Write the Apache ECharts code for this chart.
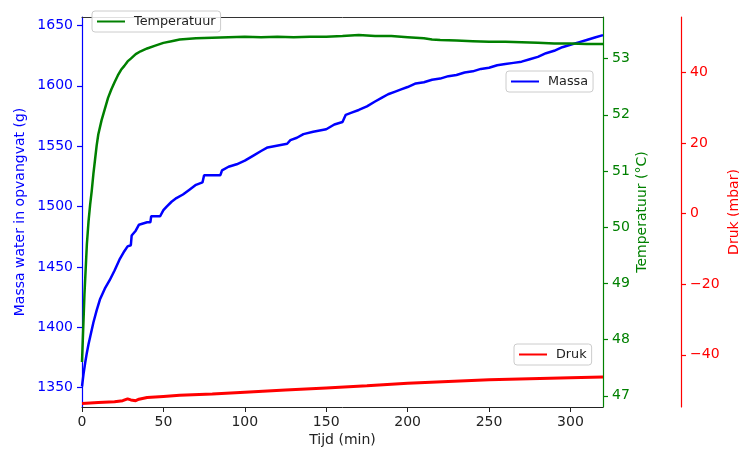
<!DOCTYPE html>
<html>
<head>
<meta charset="utf-8">
<script src="https://cdn.jsdelivr.net/npm/echarts@6/dist/echarts.min.js"></script>
<style>
  html, body { margin: 0; padding: 0; background: #fff; }
  #chart { width: 739px; height: 455px; }
</style>
</head>
<body>
<div id="chart"></div>
<script>
// Massa (g) versus tijd (min)
var massaTijd = [0, 1, 2, 3, 4, 5, 7, 9, 11, 14, 17, 20, 23, 26, 28, 30, 30.5, 33, 35, 40, 42, 42.5, 48, 50, 52, 55, 58, 62, 66, 70, 74, 75, 85, 86, 90, 95, 100, 105, 110, 114, 118, 122, 126, 128, 132, 136, 142, 150, 155, 160, 162, 166, 170, 175, 180, 184, 188, 192, 196, 200, 205, 210, 215, 220, 225, 230, 235, 240, 245, 250, 255, 260, 265, 270, 275, 280, 285, 290, 295, 300, 305, 310, 315, 320];
var massaWaarden = [1351, 1362, 1371, 1379, 1386, 1392, 1404, 1414, 1423, 1432, 1439, 1447, 1456, 1463, 1467, 1468, 1476, 1480, 1485, 1487, 1487, 1492, 1492, 1497, 1500, 1504, 1507, 1510, 1514, 1518, 1520, 1526, 1526, 1530, 1533, 1535, 1538, 1542, 1546, 1549, 1550, 1551, 1552, 1555, 1557, 1560, 1562, 1564, 1568, 1570, 1576, 1578, 1580, 1583, 1587, 1590, 1593, 1595, 1597, 1599, 1602, 1603, 1605, 1606, 1608, 1609, 1611, 1612, 1614, 1615, 1617, 1618, 1619, 1620, 1622, 1624, 1627, 1629, 1632, 1634, 1636, 1638, 1640, 1642];

// Temperatuur (°C)
var tempTijd = [0, 0.5, 1, 1.5, 2, 2.5, 3, 3.5, 4, 5, 6, 7, 8, 9, 10, 12, 14, 16, 18, 20, 22, 24, 26, 28, 30, 33, 36, 40, 45, 50, 55, 60, 70, 80, 90, 100, 110, 120, 130, 140, 150, 160, 170, 175, 180, 190, 200, 210, 215, 220, 230, 240, 250, 260, 270, 280, 290, 300, 310, 320];
var tempWaarden = [47.6, 48.0, 48.4, 48.8, 49.1, 49.4, 49.7, 49.9, 50.1, 50.4, 50.65, 50.95, 51.2, 51.45, 51.65, 51.9, 52.1, 52.3, 52.45, 52.58, 52.7, 52.8, 52.87, 52.95, 53.0, 53.08, 53.13, 53.18, 53.23, 53.28, 53.31, 53.34, 53.36, 53.37, 53.38, 53.39, 53.38, 53.39, 53.38, 53.39, 53.39, 53.40, 53.42, 53.41, 53.40, 53.40, 53.38, 53.36, 53.34, 53.33, 53.32, 53.31, 53.30, 53.30, 53.29, 53.28, 53.27, 53.27, 53.26, 53.26];

// Druk (mbar)
var drukTijd = [0, 10, 20, 25, 28, 30, 33, 35, 40, 50, 60, 80, 100, 125, 150, 175, 200, 225, 250, 275, 300, 320];
var drukWaarden = [-53.8, -53.5, -53.3, -53.0, -52.5, -52.8, -53.0, -52.6, -52.1, -51.8, -51.5, -51.1, -50.6, -50.0, -49.4, -48.8, -48.1, -47.6, -47.1, -46.8, -46.5, -46.3];

// Tick labels
var tijdTicks = [0, 50, 100, 150, 200, 250, 300];
var massaTicks = [1350, 1400, 1450, 1500, 1550, 1600, 1650];
var tempTicks = [47, 48, 49, 50, 51, 52, 53];
var drukTicks = [-40, -20, 0, 20, 40];

function pairs(xs, ys) {
    return xs.map(function (x, i) { return [x, ys[i]]; });
}

var FONT = 'DejaVu Sans';
var LINE_ICON = 'path://M0,6L28,6L28,8L0,8Z';
var chart = echarts.init(document.getElementById('chart'));

function yAs(color, ticks, min, max, name, gap, extra) {
    var axis = {
        type: 'value',
        min: min,
        max: max,
        name: name,
        nameLocation: 'middle',
        nameRotate: 90,
        nameGap: gap,
        nameMoveOverlap: false,
        nameTextStyle: { color: color, fontSize: 14, fontFamily: FONT },
        axisLine: { show: true, onZero: false, lineStyle: { color: color, width: 1.2, opacity: 1 } },
        axisTick: { show: true, length: 5, inside: false, customValues: ticks, lineStyle: { color: color, width: 1.2 } },
        axisLabel: {
            color: color, fontSize: 14, fontFamily: FONT, margin: 9,
            customValues: ticks,
            formatter: function (v) { return String(v).replace('-', '\u2212'); }
        },
        splitLine: { show: false }
    };
    for (var k in extra) axis[k] = extra[k];
    return axis;
}

var legendBase = {
    orient: 'horizontal',
    itemWidth: 28,
    itemHeight: 14,
    padding: [4, 5],
    backgroundColor: 'rgba(255,255,255,0.85)',
    borderColor: '#cccccc',
    borderWidth: 1,
    borderRadius: 3,
    z: 10,
    textStyle: { fontSize: 12.8, color: '#222', fontFamily: FONT, padding: [0, 0, 0, 4] }
};

chart.setOption({
    animation: false,
    backgroundColor: '#fff',
    textStyle: { fontFamily: FONT },
    grid: { left: 82, right: 136, top: 17, bottom: 48, containLabel: false, outerBoundsMode: 'none' },

    legend: [
        Object.assign({}, legendBase, { data: [{ name: 'Temperatuur', icon: LINE_ICON }], left: 92, top: 11 }),
        Object.assign({}, legendBase, { data: [{ name: 'Massa', icon: LINE_ICON }], left: 506, top: 71 }),
        Object.assign({}, legendBase, { data: [{ name: 'Druk', icon: LINE_ICON }], left: 514, top: 344 })
    ],

    xAxis: [{
        type: 'value',
        position: 'bottom',
        min: 0,
        max: 320,
        name: 'Tijd (min)',
        nameLocation: 'middle',
        nameGap: 26,
        nameMoveOverlap: false,
        nameTextStyle: { color: '#222', fontSize: 14, fontFamily: FONT },
        axisLine: { show: true, onZero: false, lineStyle: { color: '#222', width: 1 } },
        axisTick: { show: true, length: 5, customValues: tijdTicks, lineStyle: { color: '#222' } },
        axisLabel: { color: '#222', fontSize: 14, fontFamily: FONT, margin: 8, customValues: tijdTicks },
        splitLine: { show: false }
    }, {
        type: 'value',
        position: 'top',
        min: 0,
        max: 320,
        axisLine: { show: true, onZero: false, lineStyle: { color: '#333', width: 1 } },
        axisTick: { show: false },
        axisLabel: { show: false },
        splitLine: { show: false }
    }],

    yAxis: [
        yAs('#0000ff', massaTicks, 1334, 1657, 'Massa water in opvangvat (g)', 55, { position: 'left' }),
        yAs('#008000', tempTicks, 46.8, 53.74, 'Temperatuur (\u00b0C)', 32, { position: 'right' }),
        yAs('#ff0000', drukTicks, -54.8, 55.7, 'Druk (mbar)', 46, { position: 'right', offset: 78 })
    ],

    series: [{
        name: 'Massa',
        type: 'line',
        yAxisIndex: 0,
        symbol: 'none',
        lineStyle: { color: '#0000ff', width: 2.5 },
        itemStyle: { color: '#0000ff' },
        data: pairs(massaTijd, massaWaarden)
    }, {
        name: 'Temperatuur',
        type: 'line',
        yAxisIndex: 1,
        symbol: 'none',
        lineStyle: { color: '#008000', width: 2.5 },
        itemStyle: { color: '#008000' },
        data: pairs(tempTijd, tempWaarden)
    }, {
        name: 'Druk',
        type: 'line',
        yAxisIndex: 2,
        symbol: 'none',
        lineStyle: { color: '#ff0000', width: 3 },
        itemStyle: { color: '#ff0000' },
        data: pairs(drukTijd, drukWaarden)
    }]
});
</script>
</body>
</html>
